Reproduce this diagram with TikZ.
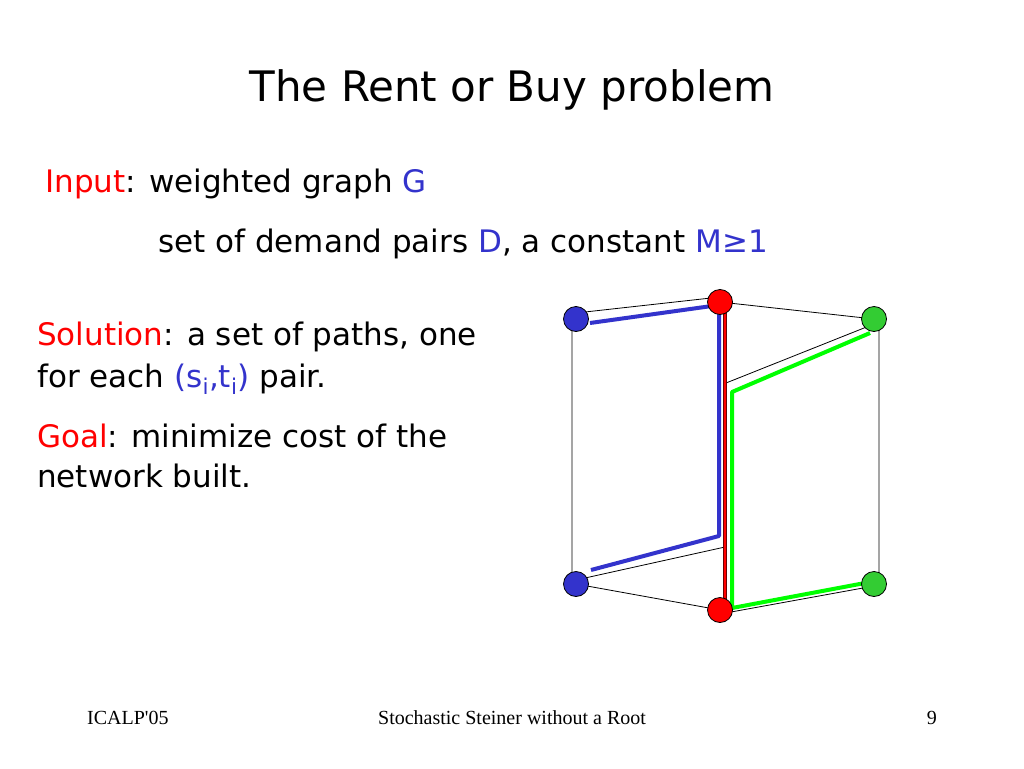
\documentclass[tikz,border=0pt]{standalone}
\usepackage{fontspec}
\setmainfont{DejaVu Sans}
\newfontfamily\footfont{Liberation Serif}
\usetikzlibrary{calc,positioning}
\definecolor{vblue}{RGB}{51,51,204}
\definecolor{vred}{RGB}{255,0,0}
\definecolor{vgreen}{RGB}{51,204,51}
\definecolor{pgreen}{RGB}{0,255,0}
\definecolor{dred}{RGB}{110,0,0}
\tikzset{
  txt/.style={anchor=base west,inner sep=0pt,font=\fontsize{31}{37}\selectfont},
  foot/.style={anchor=base,inner sep=0pt,font=\footfont\fontsize{20}{24}\selectfont},
  thinedge/.style={line width=0.8pt,black},
  route/.style={line width=4pt,line cap=butt}
}
\newcommand{\rd}[1]{\textcolor{vred}{#1}}
\newcommand{\bl}[1]{\textcolor{vblue}{#1}}
\begin{document}
\begin{tikzpicture}[x=1pt,y=-1pt,line join=round,line cap=round]
\useasboundingbox[fill=white] (0,0) rectangle (1024,768);
% title and text
\node[anchor=base,inner sep=0pt,font=\fontsize{42}{50}\selectfont] (title) at (512,101) {The Rent or Buy problem};
\node[txt] (input) at (45,192) {\rd{Input}: weighted graph \bl{G}};
\node[txt] (dem) at (158,252) {set of demand pairs \bl{D}, a constant \bl{M≥1}};
\node[txt] (sol) at (37,345) {\rd{Solution}: a set of paths, one};
\node[txt] (sol2) at (37,387) {for each \bl{(s\textsubscript{i},t\textsubscript{i})} pair.};
\node[txt] (goal) at (37,447) {\rd{Goal}: minimize cost of the};
\node[txt] (goal2) at (37,487) {network built.};
% footer
\node[foot,anchor=base west] (conf) at (87,724) {ICALP'05};
\node[foot] (talk) at (512,724) {Stochastic Steiner without a Root};
\node[foot,anchor=base east] (page) at (937,724) {9};
% graph
\coordinate (bt) at (576,319);
\coordinate (rt) at (720,302);
\coordinate (gt) at (874,319);
\coordinate (bb) at (576,584);
\coordinate (rb) at (720,610);
\coordinate (gb) at (874,584);
\coordinate (jt) at (726,383);
\coordinate (jb) at (725,547);
\draw[thinedge] ($(bt)+(0,-6)$)--($(rt)+(0,-5)$) (rt)--(gt) ($(bt)+(-4,0)$)--($(bb)+(-4,0)$)
  ($(gt)+(5,0)$)--($(gb)+(5,0)$) ($(gt)+(0,5)$)--(jt) ($(bb)+(0,-4)$)--(jb) (bb)--(rb) ($(rb)+(0,4)$)--($(gb)+(0,2)$);
\draw[line width=4.5pt,dred,line cap=butt] ($(rt)+(5,0)$)--($(rb)+(5,0)$);
\draw[line width=2.2pt,vred,line cap=butt] ($(rt)+(5,0)$)--($(rb)+(5,0)$);
\draw[route,vblue] (590,323)--(719,305)--(719,536)--(591,570);
\draw[route,pgreen] (870,333)--(732,392)--(732,608)--(865,583);
\foreach \v/\c in {bt/vblue,bb/vblue,rt/vred,rb/vred,gt/vgreen,gb/vgreen}{\draw[fill=\c,line width=0.8pt](\v) circle (12.5);}
\end{tikzpicture}
\end{document}
